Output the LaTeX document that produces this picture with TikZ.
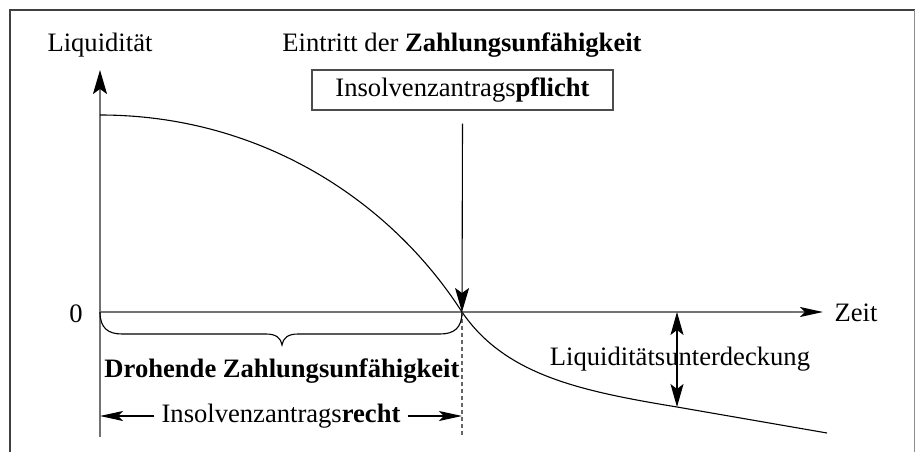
\documentclass[tikz,border=0pt]{standalone}
\usepackage{fontspec}
\setmainfont{Liberation Serif}
\usetikzlibrary{arrows.meta}
\begin{document}
\begin{tikzpicture}[x=1pt,y=-1pt,
  axis/.style={draw=black!55, line width=1.5pt},
  vtip/.style={-{Stealth[length=24pt,width=14pt,inset=5pt,color=black]}},
  htip/.style={-{Stealth[length=23pt,width=10pt,inset=5pt,color=black]}},
  vdouble/.style={{Stealth[length=23pt,width=13pt,inset=5pt]}-{Stealth[length=23pt,width=13pt,inset=5pt]}},
  lbl/.style={inner sep=0pt, font=\fontsize{26.6}{30}\selectfont, anchor=base},
  curve/.style={draw=black, line width=1.1pt}]
\useasboundingbox (0,0) rectangle (916,452);
% frame
\draw[draw=black!75, line width=2pt] (9.5,470) -- (9.5,10) -- (914.5,10);
\draw[draw=black!45, line width=1.5pt] (914.5,10) -- (914.5,470);
% coordinates
\coordinate (O) at (100,312);
\coordinate (Ytop) at (100,70);
\coordinate (Ybot) at (100,437);
\coordinate (Xend) at (823,312);
\coordinate (Z) at (462,312);
\coordinate (Zbot) at (462,437);
\coordinate (Start) at (100,115);
\coordinate (U1) at (677,312);
\coordinate (U2) at (677,407);
\coordinate (End) at (827,433);
% axes
\draw[axis] (Ybot) -- (O);
\draw[axis, vtip] (O) -- (Ytop);
\draw[axis, htip] (O) -- (Xend);
% labels
\node[lbl] (liq) at (100,52) {Liquidität};
\node[lbl] (null) at (76,322) {0};
\node[lbl] (zeit) at (856,321) {Zeit};
\node[lbl] (eintritt) at (462,52) {Eintritt der \textbf{Zahlungsunfähigkeit}};
\node[draw=black!70, line width=1.4pt, minimum width=301pt, minimum height=40pt,
      inner sep=0pt, font=\fontsize{26.6}{30}\selectfont] (pflicht) at (462.5,90)
      {Insolvenzantrags\textbf{pflicht}};
\node[lbl] (droh) at (282,377) {\textbf{Drohende Zahlungsunfähigkeit}};
\node[lbl, anchor=center] (recht) at (281,416) {Insolvenzantrags\textbf{recht}};
\node[lbl] (unter) at (680,365) {Liquiditätsunterdeckung};
% curve
\draw[curve] (Start) .. controls (260,115) and (390,200) .. (Z)
  .. controls (505,375) and (580,391) .. (U2) -- (End);
% arrow from box to zero crossing
\draw[line width=1.1pt, vtip] ([yshift=-13pt]pflicht.south) -- (Z);
% dashed line
\draw[black!60, line width=1.2pt, dash pattern=on 4pt off 3pt] (Z) -- (Zbot);
% brace
\draw[line width=1.1pt] (O) .. controls (100,328) and (108,334) .. (122,334)
  -- (266,334) .. controls (276,334) and (281,338) .. (282,345)
  .. controls (283,338) and (288,334) .. (298,334)
  -- (440,334) .. controls (454,334) and (462,328) .. (Z);
% Insolvenzantragsrecht arrows
\draw[line width=1.1pt, htip] ([xshift=-7pt]recht.west) -- (recht.west -| Ybot);
\draw[line width=1.1pt, htip] ([xshift=7pt]recht.east) -- (recht.east -| Zbot);
% Liquiditaetsunterdeckung arrow
\draw[line width=1.1pt, vdouble] (U1) -- (U2);
\end{tikzpicture}
\end{document}
